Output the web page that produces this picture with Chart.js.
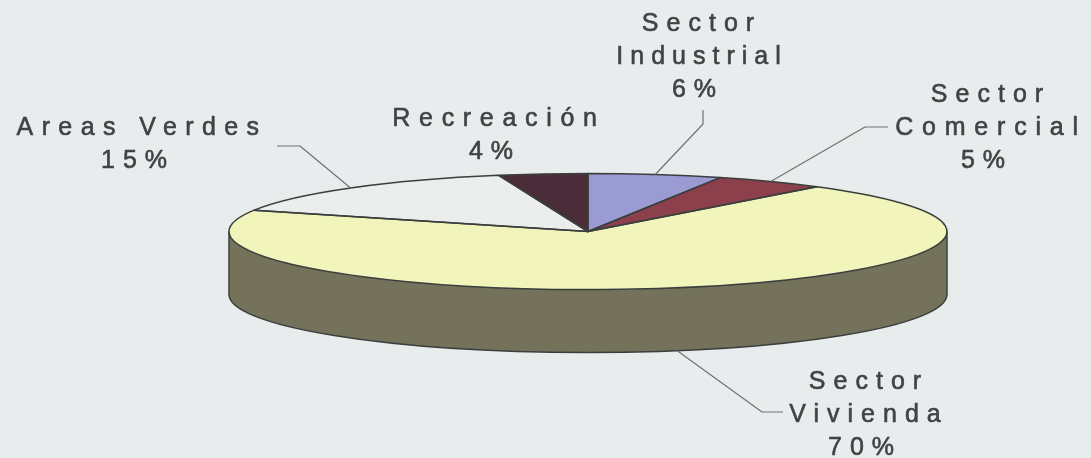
<!DOCTYPE html>
<html>
<head>
<meta charset="utf-8">
<script src="https://cdn.jsdelivr.net/npm/chart.js@4/dist/chart.umd.min.js"></script>
<style>
  html, body { margin: 0; padding: 0; background: #e9ecec; }
  #wrap { position: relative; width: 1091px; height: 458px; }
</style>
</head>
<body>
<div id="wrap"><canvas id="pie" width="1091" height="458"></canvas></div>
<script>
var categories = ["Sector Industrial", "Sector Comercial", "Sector Vivienda", "Areas Verdes", "Recreación"];
var values = [6, 5, 70, 15, 4];
var sliceColors = ["#9a9bd2", "#8b404c", "#f1f4bb", "#eceeee", "#4b2d39"];
var rimColors = ["#5f5f80", "#5a2a32", "#75725b", "#8c8c8c", "#2e1c24"];

// where the tilted pie sits on the page
var pieBox = { x: 588, y: 231.5, rx: 359, ry: 58, depth: 63 };
var lineColor = "#3a3f3d";

// text blocks, one entry per slice, same order as categories
var labelLines = [["Sector", "Industrial"], ["Sector", "Comercial"], ["Sector", "Vivienda"], ["Areas Verdes"], ["Recreación"]];
var labelGaps = [[8, 7], [8, 8.8], [8, 8], [8.4], [8.7]];
var labelX = [702, 991, 869, 142, 499];
var labelY = [24, 95, 382, 128, 119];
var lineStep = 33;

// leader lines: text end, then the elbow, the third point comes from the slice itself
var leaders = [
  [[703, 110], [703, 124]],
  [[888, 127], [865, 127]],
  [[783, 412], [762, 412]],
  [[277, 146], [300, 146]],
  null
];

function arcPoint(el, angle, drop) {
  return {
    x: pieBox.x + Math.cos(angle) * pieBox.rx,
    y: pieBox.y + Math.sin(angle) * pieBox.ry + (drop || 0)
  };
}

var tiltPie = {
  id: "tiltPie",
  beforeDatasetsDraw: function (chart) {
    var ctx = chart.ctx;
    var arcs = chart.getDatasetMeta(0).data;
    var R = arcs[0].outerRadius;

    // side wall first, only the part of each slice that faces the front
    arcs.forEach(function (el, i) {
      var from = Math.max(el.startAngle, 0);
      var to = Math.min(el.endAngle, Math.PI);
      if (to <= from) return;
      ctx.beginPath();
      ctx.ellipse(pieBox.x, pieBox.y, pieBox.rx, pieBox.ry, 0, from, to);
      ctx.ellipse(pieBox.x, pieBox.y + pieBox.depth, pieBox.rx, pieBox.ry, 0, to, from, true);
      ctx.closePath();
      ctx.fillStyle = rimColors[i];
      ctx.fill();
    });

    ctx.save();
    ctx.translate(pieBox.x, pieBox.y);
    ctx.scale(pieBox.rx / R, pieBox.ry / R);
    ctx.translate(-arcs[0].x, -arcs[0].y);
  },
  afterDatasetsDraw: function (chart) {
    var ctx = chart.ctx;
    ctx.restore();
    var arcs = chart.getDatasetMeta(0).data;

    ctx.strokeStyle = lineColor;
    ctx.lineWidth = 1.5;
    ctx.lineJoin = "round";

    // outline of each slice top
    arcs.forEach(function (el) {
      var a = arcPoint(el, el.startAngle);
      ctx.beginPath();
      ctx.moveTo(pieBox.x, pieBox.y);
      ctx.lineTo(a.x, a.y);
      ctx.ellipse(pieBox.x, pieBox.y, pieBox.rx, pieBox.ry, 0, el.startAngle, el.endAngle);
      ctx.closePath();
      ctx.stroke();
    });

    // outline of the side wall
    ctx.beginPath();
    ctx.moveTo(pieBox.x + pieBox.rx, pieBox.y);
    ctx.lineTo(pieBox.x + pieBox.rx, pieBox.y + pieBox.depth);
    ctx.ellipse(pieBox.x, pieBox.y + pieBox.depth, pieBox.rx, pieBox.ry, 0, 0, Math.PI);
    ctx.lineTo(pieBox.x - pieBox.rx, pieBox.y);
    ctx.stroke();

    // leader lines
    ctx.strokeStyle = "#6d7272";
    ctx.lineWidth = 1.2;
    arcs.forEach(function (el, i) {
      if (!leaders[i]) return;
      var mid = (el.startAngle + el.endAngle) / 2;
      var front = Math.sin(mid) > 0;
      var end = arcPoint(el, mid, front ? pieBox.depth : 0);
      ctx.beginPath();
      ctx.moveTo(leaders[i][0][0], leaders[i][0][1]);
      ctx.lineTo(leaders[i][1][0], leaders[i][1][1]);
      ctx.lineTo(end.x, end.y);
      ctx.stroke();
    });

    // labels, the thin stroke thickens them like the scanned original
    ctx.fillStyle = "#3d4444";
    ctx.strokeStyle = "#3d4444";
    ctx.lineWidth = 0.6;
    ctx.font = "25px 'Liberation Sans', Arial, sans-serif";
    ctx.textAlign = "center";
    ctx.textBaseline = "middle";
    categories.forEach(function (name, i) {
      labelLines[i].forEach(function (txt, k) {
        ctx.letterSpacing = labelGaps[i][k] + "px";
        ctx.fillText(txt, labelX[i], labelY[i] + k * lineStep);
        ctx.strokeText(txt, labelX[i], labelY[i] + k * lineStep);
      });
      var pct = values[i] + "%";
      var y = labelY[i] + labelLines[i].length * lineStep;
      ctx.letterSpacing = "8px";
      ctx.fillText(pct, labelX[i] - 4, y);
      ctx.strokeText(pct, labelX[i] - 4, y);
    });
    ctx.letterSpacing = "0px";
  }
};

new Chart(document.getElementById("pie"), {
  type: "pie",
  data: {
    labels: categories,
    datasets: [{ data: values, backgroundColor: sliceColors, borderWidth: 0, hoverOffset: 0 }]
  },
  options: {
    responsive: false,
    animation: false,
    events: [],
    plugins: { legend: { display: false }, tooltip: { enabled: false } }
  },
  plugins: [tiltPie]
});
</script>
</body>
</html>
